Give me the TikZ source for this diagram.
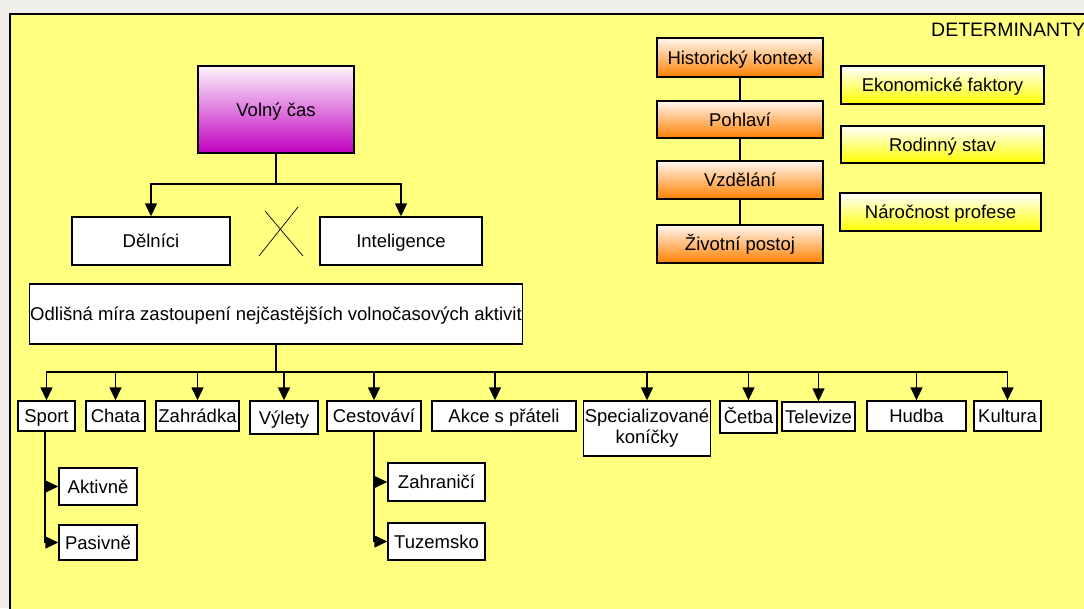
\documentclass[tikz,border=0pt]{standalone}
\usepackage{fontspec}
\setmainfont{Liberation Sans}
\usetikzlibrary{arrows.meta}
\definecolor{bgyellow}{RGB}{255,255,128}
\definecolor{outergray}{RGB}{240,239,235}
\definecolor{magentabox}{RGB}{192,0,192}
\definecolor{orangebox}{RGB}{255,128,0}
\tikzset{
  box/.style={draw, line width=1.4pt, fill=white, inner sep=1pt, align=center,
    text height=14.5pt, text depth=1.5pt, font=\fontsize{18.5}{21}\selectfont},
  detbox/.style={box, top color=orangebox!6!white, bottom color=orangebox,
    minimum width=166pt, minimum height=38pt},
  extbox/.style={box, top color=white, bottom color=yellow, minimum height=38pt},
  arr/.style={line width=1.4pt, -{Triangle[length=13pt,width=12pt]}},
  conn/.style={line width=1.4pt}
}
\begin{document}
\begin{tikzpicture}[x=1pt,y=-1pt]
  \useasboundingbox (0,0) rectangle (1084,608);
  \clip (0,0) rectangle (1084,608);
  \fill[outergray] (0,0) rectangle (1084,608);
  \draw[line width=1.4pt, fill=bgyellow] (10,620) -- (10,14) -- (1100,14) -- (1100,620) -- cycle;
  \node[anchor=west, inner sep=0pt, font=\fontsize{19.5}{22}\selectfont] (det) at (931,30) {DETERMINANTY};

  %% Volny cas
  \node[box, top color=magentabox!4!white, bottom color=magentabox,
    minimum width=156pt, minimum height=87pt] (cas) at (276,109.5) {Volný čas};
  \node[box, minimum width=158pt, minimum height=48pt] (delnici) at (151,241) {Dělníci};
  \node[box, minimum width=162pt, minimum height=48pt] (inteligence) at (401,241) {Inteligence};
  \coordinate (j1) at (276,184);
  \draw[conn] (cas) -- (j1);
  \draw[arr] (j1) -| (delnici);
  \draw[arr] (j1) -| (inteligence);
  \draw[line width=0.7pt] (259,256) -- (298,207);
  \draw[line width=0.7pt] (265,211) -- (303,256);

  \node[box, minimum width=490pt, minimum height=60pt] (odlisna) at (276,314)
    {Odlišná míra zastoupení nejčastějších volnočasových aktivit};
  \coordinate (j2) at (276,372);
  \draw[conn] (odlisna) -- (j2);

  %% Activities
  \node[box, minimum width=57pt, minimum height=30pt] (sport) at (46.5,416) {Sport};
  \node[box, minimum width=59pt, minimum height=30pt] (chata) at (115.5,416) {Chata};
  \node[box, minimum width=83pt, minimum height=30pt] (zahradka) at (197.5,416) {Zahrádka};
  \node[box, minimum width=68pt, minimum height=33pt] (vylety) at (284,417.5) {Výlety};
  \node[box, minimum width=94pt, minimum height=30pt] (cestovavi) at (374,416) {Cestováví};
  \node[box, minimum width=144pt, minimum height=30pt] (akce) at (504,416) {Akce s přáteli};
  \node[box, text height={}, text depth={}, minimum width=124pt, minimum height=55pt] (spec) at (647,428.5) {Specializované\\koníčky};
  \node[box, minimum width=57pt, minimum height=32pt] (cetba) at (748.5,417) {Četba};
  \node[box, minimum width=73pt, minimum height=29pt] (televize) at (818.5,416.5) {Televize};
  \node[box, minimum width=99pt, minimum height=30pt] (hudba) at (916.5,416) {Hudba};
  \node[box, minimum width=67pt, minimum height=30pt] (kultura) at (1007.5,416) {Kultura};
  \foreach \n in {sport,chata,zahradka,vylety,cestovavi,spec,cetba,televize,hudba,kultura}
    \draw[arr] (j2) -| (\n.north);
  \draw[arr] (j2) -| ([xshift=-9pt]akce.north);

  %% Sub-activities
  \node[box, minimum width=78pt, minimum height=37pt] (aktivne) at (98,486.5) {Aktivně};
  \node[box, minimum width=78pt, minimum height=35pt] (pasivne) at (98,542.5) {Pasivně};
  \node[box, minimum width=97pt, minimum height=38pt] (zahranici) at (436.5,482) {Zahraničí};
  \node[box, minimum width=97pt, minimum height=37pt] (tuzemsko) at (436.5,541.5) {Tuzemsko};
  \draw[arr] ([xshift=-1.5pt]sport.south) |- (aktivne);
  \draw[arr] ([xshift=-1.5pt]sport.south) |- (pasivne);
  \draw[arr] (cestovavi.south) |- (zahranici);
  \draw[arr] (cestovavi.south) |- (tuzemsko);

  %% Determinants
  \node[detbox, minimum height=39pt] (historie) at (740,57.5) {Historický kontext};
  \node[detbox, minimum height=37pt] (pohlavi) at (740,119.5) {Pohlaví};
  \node[detbox] (vzdelani) at (740,180) {Vzdělání};
  \node[detbox] (postoj) at (740,244) {Životní postoj};
  \draw[conn] (historie) -- (pohlavi);
  \draw[conn] (pohlavi) -- (vzdelani);
  \draw[conn] (vzdelani) -- (postoj);
  \node[extbox, minimum width=203pt] (ekonomie) at (942.5,85) {Ekonomické faktory};
  \node[extbox, minimum width=203pt, minimum height=37pt] (rodina) at (942.5,144.5) {Rodinný stav};
  \node[extbox, minimum width=201pt] (profese) at (940.5,212) {Náročnost profese};
\end{tikzpicture}
\end{document}
